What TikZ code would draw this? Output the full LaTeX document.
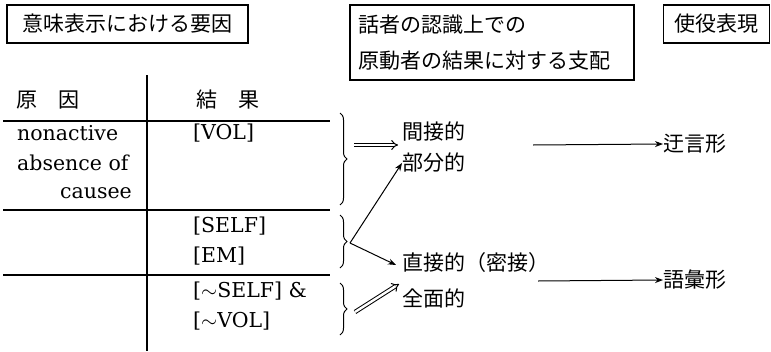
\documentclass[tikz,border=0pt]{standalone}
\usepackage{fontspec}
\newfontfamily\cjk{Noto Sans CJK JP}
\newfontfamily\latn{DejaVu Serif}
\usetikzlibrary{arrows.meta,decorations.pathreplacing}
\tikzset{
  boxnode/.style={draw,line width=1.3pt,inner sep=0pt,font=\cjk\fontsize{21}{36}\selectfont},
  jtxt/.style={inner sep=0pt,anchor=west,font=\cjk\fontsize{21}{26}\selectfont},
  ltxt/.style={inner sep=0pt,anchor=west,font=\latn\fontsize{20.5}{26}\selectfont},
  rule/.style={line width=1.3pt},
  bracestyle/.style={decorate,decoration={brace,amplitude=7pt},line width=1pt},
  sarrow/.style={line width=1pt,-{Stealth[length=8pt,width=6pt]}},
  darrow/.style={double,double distance=2.4pt,line width=1pt,-{Implies}},
}
\begin{document}
\begin{tikzpicture}[x=1pt,y=-1pt]
\useasboundingbox (0,0) rectangle (771,351);
% header boxes
\node[boxnode,minimum width=241,minimum height=38] (h1) at (127.5,24) {意味表示における要因};
\node[boxnode,minimum width=284,minimum height=75,text width=268,align=left] (h2) at (492,42.5) {話者の認識上での\\原動者の結果に対する支配};
\node[boxnode,minimum width=106,minimum height=38] (h3) at (716.5,24) {使役表現};
% table
\coordinate (vt) at (147,75);
\coordinate (vb) at (147,351);
\draw[line width=1.1pt] (vt) -- (vb);
\coordinate (l1a) at (3,121); \coordinate (l1b) at (330,121);
\coordinate (l2a) at (3,210); \coordinate (l2b) at (330,210);
\coordinate (l3a) at (3,275); \coordinate (l3b) at (330,275);
\draw[rule] (l1a) -- (l1b);
\draw[rule] (l2a) -- (l2b);
\draw[rule] (l3a) -- (l3b);
\node[jtxt] (c1) at (16,100) {原　因};
\node[jtxt] (r1) at (196,100) {結　果};
\node[ltxt] (t1) at (17,133) {nonactive};
\node[ltxt] (t2) at (17,163) {absence of};
\node[ltxt,anchor=east] (t3) at (132,193) {causee};
\node[ltxt] (v1) at (193,133) {[VOL]};
\node[ltxt] (v2) at (193,226) {[SELF]};
\node[ltxt] (v3) at (193,256) {[EM]};
\node[ltxt] (v4) at (193,291) {[$\sim$SELF] \&};
\node[ltxt] (v5) at (193,321) {[$\sim$VOL]};
% braces
\coordinate (b1t) at (340,113); \coordinate (b1b) at (340,205);
\coordinate (b2t) at (340,215); \coordinate (b2b) at (340,268);
\coordinate (b3t) at (340,283); \coordinate (b3b) at (340,335);
\draw[bracestyle] (b1t) -- (b1b);
\draw[bracestyle] (b2t) -- (b2b);
\draw[bracestyle] (b3t) -- (b3b);
\coordinate (b1) at (354,145);
\coordinate (b2) at (350,243);
\coordinate (b3) at (355,312);
% middle column
\node[jtxt] (m1) at (402,131) {間接的};
\node[jtxt] (m2) at (402,163) {部分的};
\node[jtxt] (m3) at (402,263) {直接的（密接）};
\node[jtxt] (m4) at (402,298) {全面的};
% right column
\node[jtxt] (k1) at (663,144) {迂言形};
\node[jtxt] (k2) at (663,280) {語彙形};
% arrows
\coordinate (d1) at (398,145);
\draw[darrow] (b1) -- (d1);
\draw[sarrow] (b2) -- (m2.west);
\coordinate (d2) at (396,265);
\draw[sarrow] (b2) -- (d2);
\coordinate (d3) at (399,284);
\draw[darrow] (b3) -- (d3);
\coordinate (s1) at (533,145);
\coordinate (s2) at (538,281);
\draw[sarrow] (s1) -- (k1.west);
\draw[sarrow] (s2) -- (k2.west);
\end{tikzpicture}
\end{document}
